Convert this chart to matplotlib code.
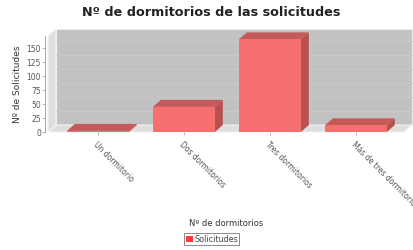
import numpy as np
import matplotlib.pyplot as plt
from matplotlib.patches import Polygon

categories = ["Un dormitorio", "Dos dormitorios", "Tres dormitorios", "Más de tres dormitorios"]
solicitudes = [2, 45, 166, 12]
yticks = [0, 25, 50, 75, 100, 125, 150]

BAR_FACE = "#f77070"
BAR_DARK = "#c45a5a"
WALL = "#c2c2c2"
WALL_LIGHT = "#dedede"


def main():
    fig = plt.figure(figsize=(4.14, 2.5), dpi=100)
    fig.patch.set_facecolor("white")

    x0, x1 = -0.58, 3.56
    y0, y1 = 0, 172
    ax = fig.add_axes([48 / 414, (250 - 132) / 250, (404 - 48) / 414, (132 - 36) / 250])
    ax.set_xlim(x0, x1)
    ax.set_ylim(y0, y1)
    ax.patch.set_visible(False)

    # depth offset in data units (about 8 px right, 7 px up)
    dx = 8 / 86
    dy = 7 / (14 / 25)

    # walls
    back = Polygon([(x0 + dx, y0 + dy), (x1 + dx, y0 + dy), (x1 + dx, y1 + dy), (x0 + dx, y1 + dy)],
                   closed=True, fc=WALL, ec="#eeeeee", lw=0.8, clip_on=False, zorder=0)
    left = Polygon([(x0, y0), (x0 + dx, y0 + dy), (x0 + dx, y1 + dy), (x0, y1)],
                   closed=True, fc=WALL_LIGHT, ec="#f4f4f4", lw=0.8, clip_on=False, zorder=0)
    floor = Polygon([(x0, y0), (x1, y0), (x1 + dx, y0 + dy), (x0 + dx, y0 + dy)],
                    closed=True, fc=WALL_LIGHT, ec="#f4f4f4", lw=0.8, clip_on=False, zorder=0)
    for p in (back, left, floor):
        ax.add_patch(p)
    for t in yticks[1:]:
        ax.plot([x0 + dx, x1 + dx], [t + dy, t + dy], color="#cbcbcb", lw=0.6, zorder=0.5, clip_on=False)

    # bars
    w = 0.72
    xs = np.arange(len(categories))
    ax.bar(xs, solicitudes, width=w, color=BAR_FACE, edgecolor="none", zorder=3)
    for x, v in zip(xs, solicitudes):
        l, r = x - w / 2, x + w / 2
        top = Polygon([(l, v), (r, v), (r + dx, v + dy), (l + dx, v + dy)], closed=True,
                      fc=BAR_DARK, ec="none", clip_on=False, zorder=2)
        side = Polygon([(r, 0), (r + dx, dy), (r + dx, v + dy), (r, v)], closed=True,
                       fc="#b85050", ec="none", clip_on=False, zorder=2)
        ax.add_patch(top)
        ax.add_patch(side)

    for s in ["top", "right", "bottom"]:
        ax.spines[s].set_visible(False)
    ax.spines["left"].set_color("#9a9a9a")
    ax.spines["left"].set_linewidth(0.6)
    ax.spines["left"].set_position(("outward", 2))

    ax.set_yticks(yticks)
    ax.set_yticklabels([str(t) for t in yticks], fontsize=5.5, color="#555555")
    ax.tick_params(axis="y", length=2, width=0.5, color="#9a9a9a", pad=1)
    ax.set_xticks(xs)
    ax.set_xticklabels(categories, rotation=-45, ha="left", va="top", rotation_mode="anchor",
                       fontsize=5.5, color="#555555")
    ax.tick_params(axis="x", length=2, width=0.5, color="#9a9a9a", pad=4)

    ax.set_ylabel("Nº de Solicitudes", fontsize=6.5, color="#333333", labelpad=3)
    fig.text(0.545, 1 - 223 / 250, "Nº de dormitorios", fontsize=6, color="#333333",
             ha="center", va="center")
    fig.text(0.51, 1 - 13 / 250, "Nº de dormitorios de las solicitudes", fontsize=9.2,
             fontweight="bold", color="#222222", ha="center", va="center")

    handle = plt.Rectangle((0, 0), 1, 1, fc="#ff3c3c", ec="none")
    leg = fig.legend([handle], ["Solicitudes"], loc="center", bbox_to_anchor=(0.512, 1 - 239 / 250),
                     fontsize=5.8, frameon=True, fancybox=False, handlelength=0.8, handleheight=0.8,
                     handletextpad=0.2, borderpad=0.2, borderaxespad=0)
    leg.get_frame().set_edgecolor("#555555")
    leg.get_frame().set_linewidth(0.6)
    for t in leg.get_texts():
        t.set_color("#444444")

    fig.savefig("out.png", dpi=100)


if __name__ == "__main__":
    main()
